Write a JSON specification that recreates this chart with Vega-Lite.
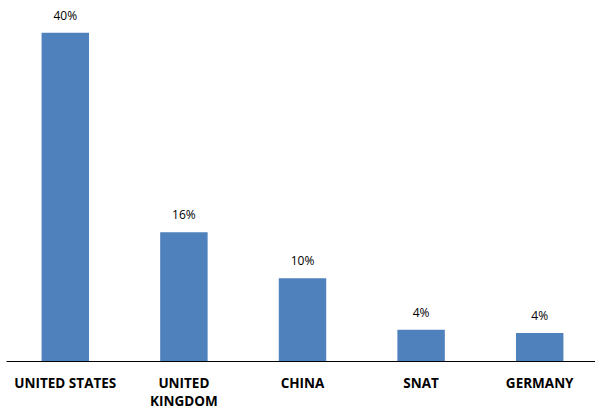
{
  "$schema": "https://vega.github.io/schema/vega-lite/v6.json",
  "width": 593,
  "height": 361,
  "autosize": {"type": "none"},
  "padding": {"left": 6, "top": 0, "right": 0, "bottom": 47},
  "background": "white",
  "config": {"view": {"stroke": null}},
  "data": {
    "values": [
      {"country": "UNITED STATES", "share": 40.0, "label": "40%"},
      {"country": "UNITED KINGDOM", "share": 15.7, "label": "16%"},
      {"country": "CHINA", "share": 10.1, "label": "10%"},
      {"country": "SNAT", "share": 3.8, "label": "4%"},
      {"country": "GERMANY", "share": 3.4, "label": "4%"}
    ]
  },
  "encoding": {
    "x": {
      "field": "country",
      "type": "nominal",
      "sort": null,
      "scale": {"paddingInner": 0.6, "paddingOuter": 0.3},
      "axis": {
        "title": null,
        "labelAngle": 0,
        "ticks": false,
        "domainColor": "#000000",
        "domainWidth": 1,
        "labelFont": "Open Sans",
        "labelFontWeight": "bold",
        "labelFontSize": 13.5,
        "labelColor": "#000000",
        "labelPadding": 15,
        "labelLineHeight": 18,
        "labelExpr": "datum.value == 'UNITED KINGDOM' ? ['UNITED', 'KINGDOM'] : datum.value"
      }
    },
    "y": {
      "field": "share",
      "type": "quantitative",
      "scale": {"domain": [0, 44]},
      "axis": null
    }
  },
  "layer": [
    {"mark": {"type": "bar", "color": "#4F81BD"}},
    {
      "mark": {"type": "text", "dy": -17, "font": "Open Sans", "fontSize": 12, "color": "#000000"},
      "encoding": {"text": {"field": "label"}}
    }
  ]
}
